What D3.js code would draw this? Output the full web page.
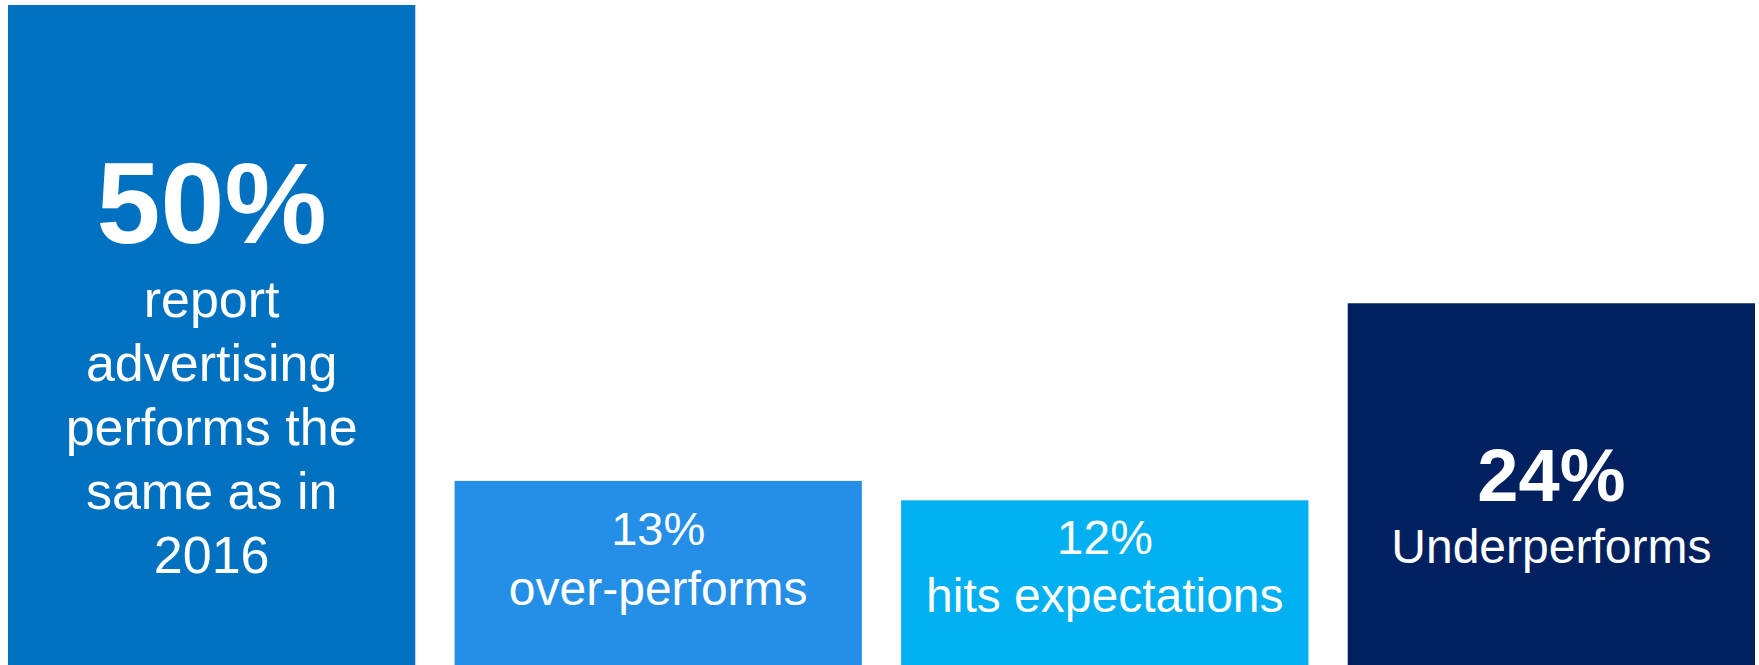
<!DOCTYPE html>
<html>
<head>
<meta charset="utf-8">
<script src="https://cdn.jsdelivr.net/npm/d3@7"></script>
<style>
  html, body { margin: 0; padding: 0; background: #ffffff; }
  svg { display: block; }
  text { font-family: "Liberation Sans", Arial, sans-serif; fill: #ffffff; }
</style>
</head>
<body>
<svg id="chart" width="1759" height="665"></svg>
<script>
// Survey result: how advertising performed compared with 2016
const categories = ["same", "over", "hits", "under"];
const values = [50, 13, 12, 24];
const descriptions = [
  ["report", "advertising", "performs the", "same as in", "2016"],
  ["over-performs"],
  ["hits expectations"],
  ["Underperforms"]
];
const colors = ["#0070C0", "#258FE8", "#00B0F0", "#002060"];

const W = 1759, H = 665;
const svg = d3.select("#chart");

const x = d3.scaleBand()
  .domain(categories)
  .range([8, 1755])
  .paddingInner(0.088)
  .paddingOuter(0);

// bars are sized by square-root scaling; the zero baseline sits below the frame
const y = d3.scaleSqrt()
  .domain([0, 50])
  .range([976, 5]);

svg.selectAll("rect.bar")
  .data(values)
  .join("rect")
  .attr("class", "bar")
  .attr("x", (d, i) => x(categories[i]))
  .attr("y", d => y(d))
  .attr("width", x.bandwidth())
  .attr("height", d => H - y(d))
  .attr("fill", (d, i) => colors[i]);

// label typography per bar: value line style, then description lines
const labelStyle = [
  { valueSize: 115, valueWeight: "bold", valueY: 243, descSize: 52, descY: 317, step: 64 },
  { valueSize: 47, valueWeight: "normal", valueY: 545, descSize: 48, descY: 605, step: 60 },
  { valueSize: 48, valueWeight: "normal", valueY: 554, descSize: 48, descY: 612, step: 58 },
  { valueSize: 74, valueWeight: "bold", valueY: 501, descSize: 48, descY: 563, step: 62 }
];

const labels = svg.selectAll("g.label")
  .data(values)
  .join("g")
  .attr("class", "label")
  .attr("transform", (d, i) => `translate(${x(categories[i]) + x.bandwidth() / 2},0)`);

labels.append("text")
  .attr("text-anchor", "middle")
  .attr("y", (d, i) => labelStyle[i].valueY)
  .style("font-size", (d, i) => labelStyle[i].valueSize + "px")
  .style("font-weight", (d, i) => labelStyle[i].valueWeight)
  .text(d => d + "%");

labels.each(function (d, i) {
  const s = labelStyle[i];
  d3.select(this).selectAll("text.desc")
    .data(descriptions[i])
    .join("text")
    .attr("class", "desc")
    .attr("text-anchor", "middle")
    .attr("y", (t, j) => s.descY + j * s.step)
    .style("font-size", s.descSize + "px")
    .text(t => t);
});
</script>
</body>
</html>
